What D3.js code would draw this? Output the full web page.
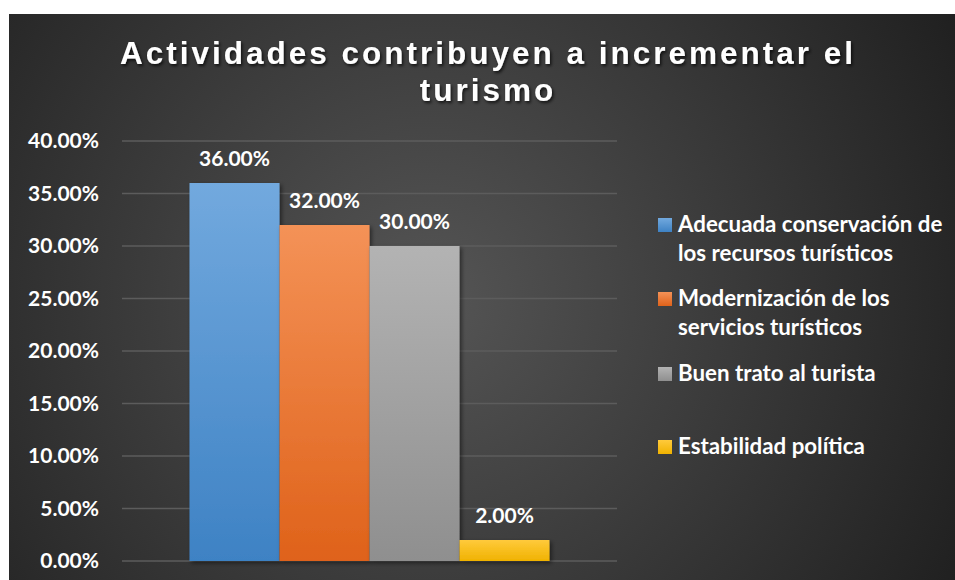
<!DOCTYPE html>
<html><head><meta charset="utf-8">
<script src="https://cdn.jsdelivr.net/npm/d3@7"></script>
<style>
html,body{margin:0;padding:0;background:#fff;}
svg{display:block;}
</style></head>
<body>
<script>
const categories = ["Actividades"];
const seriesNames = ["Adecuada conservación de los recursos turísticos","Modernización de los servicios turísticos","Buen trato al turista","Estabilidad política"];
const legendLines = [["Adecuada conservación de","los recursos turísticos"],["Modernización de los","servicios turísticos"],["Buen trato al turista"],["Estabilidad política"]];
const values = [0.36, 0.32, 0.30, 0.02];
const yTicks = [0,0.05,0.10,0.15,0.20,0.25,0.30,0.35,0.40];
const colorsTop = ["#72a9de","#f49257","#b3b3b3","#ffca3c"];
const colorsBot = ["#3e82c4","#df621a","#8f8f8f","#f0b200"];
const title = ["Actividades contribuyen a incrementar el","turismo"];

const W=955,H=580;
const svg=d3.select("body").append("svg").attr("width",W).attr("height",H);
const defs=svg.append("defs");
const bg=defs.append("radialGradient").attr("id","bg").attr("gradientUnits","userSpaceOnUse")
 .attr("cx",430).attr("cy",300).attr("r",620);
bg.append("stop").attr("offset","0").attr("stop-color","#555555");
bg.append("stop").attr("offset","1").attr("stop-color","#1e1e1e");
colorsTop.forEach((c,i)=>{
 const g=defs.append("linearGradient").attr("id","g"+i).attr("x1",0).attr("y1",0).attr("x2",0).attr("y2",1);
 g.append("stop").attr("offset",0).attr("stop-color",c);
 g.append("stop").attr("offset",1).attr("stop-color",colorsBot[i]);
});
const sh=defs.append("filter").attr("id","sh").attr("x","-20%").attr("y","-20%").attr("width","150%").attr("height","150%");
sh.append("feDropShadow").attr("dx",2).attr("dy",2).attr("stdDeviation",2).attr("flood-color","#000").attr("flood-opacity",0.5);
const tsh=defs.append("filter").attr("id","tsh").attr("x","-10%").attr("y","-30%").attr("width","120%").attr("height","160%");
tsh.append("feDropShadow").attr("dx",1.5).attr("dy",2).attr("stdDeviation",1.5).attr("flood-color","#000").attr("flood-opacity",0.7);

svg.append("rect").attr("x",9).attr("y",14).attr("width",W-9).attr("height",H-14).attr("fill","url(#bg)");

const x0=d3.scaleBand().domain(categories).range([122,617]).paddingInner(0).paddingOuter(0.1875);
const x1=d3.scaleBand().domain(d3.range(values.length)).range([0,x0.bandwidth()]);
const y=d3.scaleLinear().domain([0,0.40]).range([561,141]);

// gridlines
svg.append("g").selectAll("line").data(yTicks).join("line")
 .attr("x1",122).attr("x2",617).attr("y1",d=>y(d)).attr("y2",d=>y(d))
 .attr("stroke","#5c5c5c").attr("stroke-width",1.5);

const yAxis=svg.append("g").attr("transform","translate(122,0)")
 .call(d3.axisLeft(y).tickValues(yTicks).tickSize(0).tickPadding(23).tickFormat(d3.format(".2%")));
yAxis.select(".domain").remove();
yAxis.selectAll("text").attr("fill","#fff").attr("font-family","Lato").attr("font-weight","bold").attr("font-size","21px");

// bars
const g=svg.append("g");
g.selectAll("rect").data(values).join("rect")
 .attr("x",(d,i)=>x0(categories[0])+x1(i))
 .attr("y",d=>y(d)).attr("width",x1.bandwidth()).attr("height",d=>y(0)-y(d))
 .attr("fill",(d,i)=>"url(#g"+i+")").attr("filter","url(#sh)");

// data labels
g.selectAll("text").data(values).join("text")
 .attr("x",(d,i)=>x0(categories[0])+x1(i)+x1.bandwidth()/2)
 .attr("y",d=>y(d)-17).attr("text-anchor","middle")
 .attr("fill","#fff").attr("font-family","Lato").attr("font-weight","bold").attr("font-size","21px")
 .text(d=>d3.format(".2%")(d));

// title
svg.append("text").attr("x",488).attr("y",64).attr("text-anchor","middle")
 .attr("font-family","Liberation Sans, Arial").attr("font-weight","bold").attr("font-size","31.5px")
 .attr("letter-spacing","3px").attr("fill","#fff").attr("filter","url(#tsh)")
 .selectAll("tspan").data(title).join("tspan").attr("x",488).attr("dy",(d,i)=>i?37:0).text(d=>d);

// legend
const legY=[225,299,374,447];
const lg=svg.append("g");
legendLines.forEach((lines,i)=>{
 lg.append("rect").attr("x",658).attr("y",legY[i]-7).attr("width",14).attr("height",14).attr("fill","url(#g"+i+")");
 const t=lg.append("text").attr("x",678).attr("y",legY[i]+7).attr("fill","#fff")
  .attr("font-family","Lato").attr("font-weight","bold").attr("font-size","22.3px");
 t.selectAll("tspan").data(lines).join("tspan").attr("x",678).attr("dy",(d,j)=>j?29:0).text(d=>d);
});
</script>
</body></html>
